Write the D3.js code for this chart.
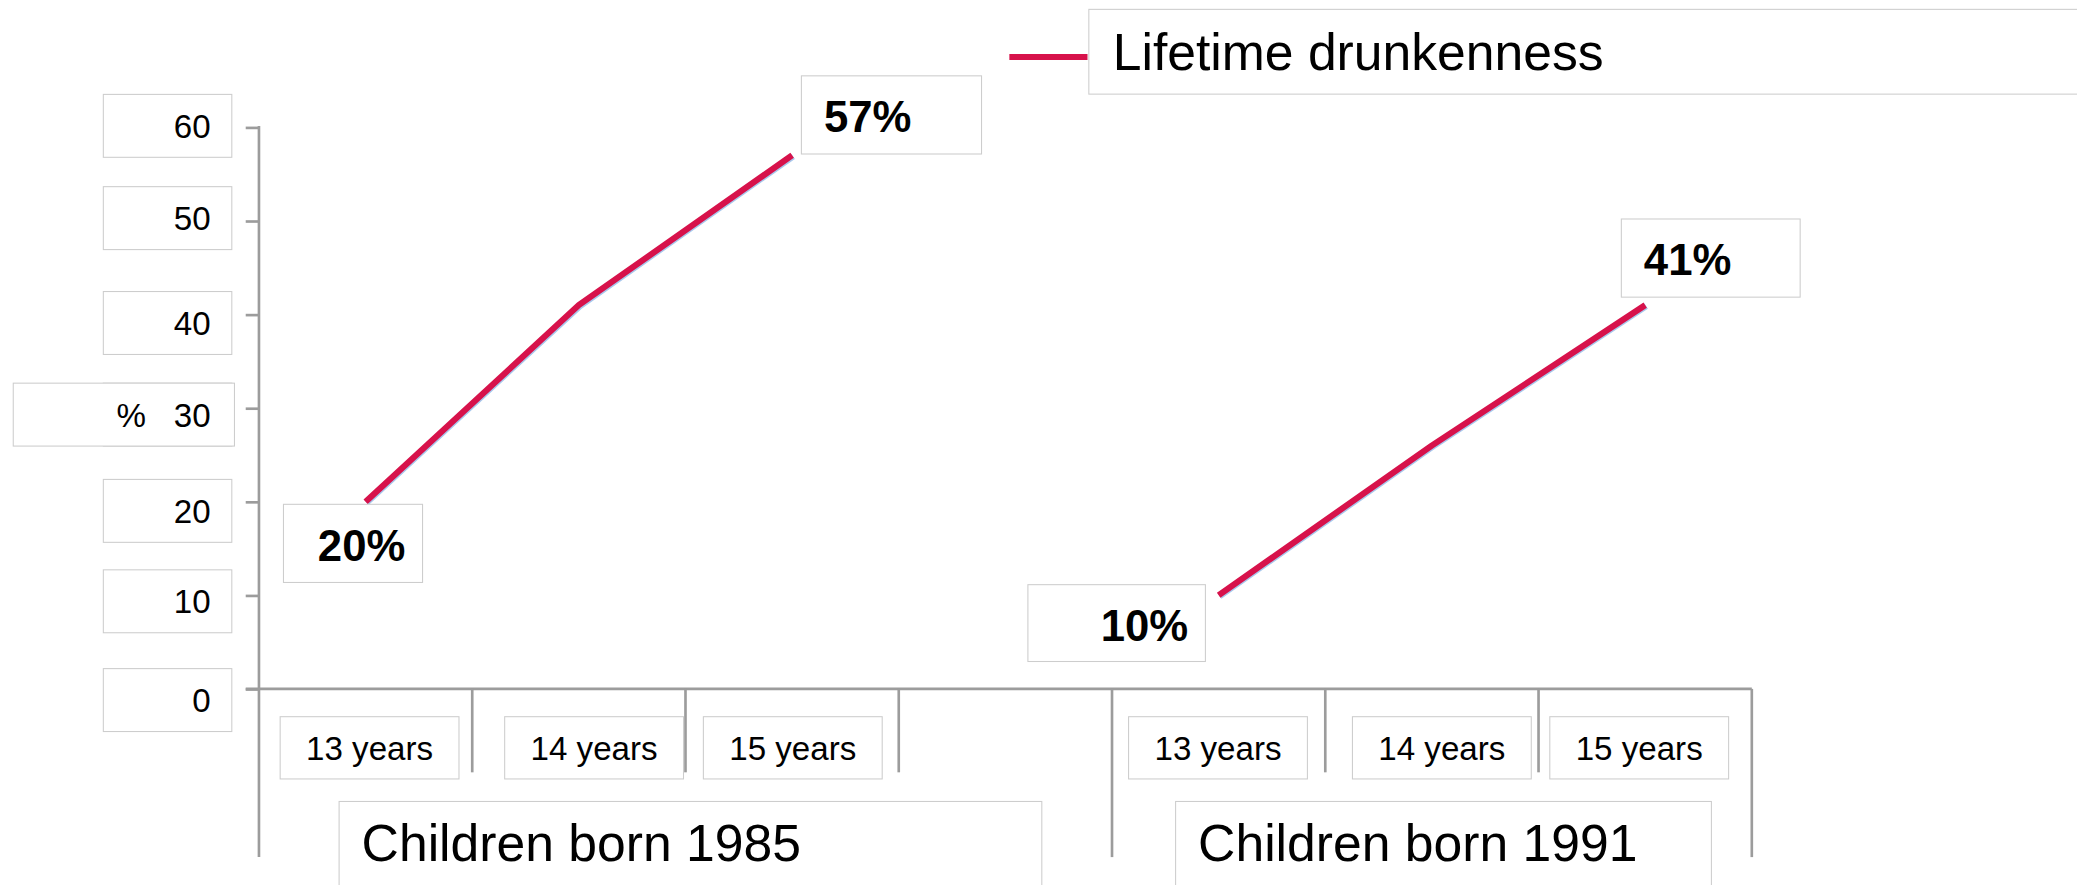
<!DOCTYPE html>
<html><head><meta charset="utf-8">
<script src="https://cdn.jsdelivr.net/npm/d3@7"></script>
<style>html,body{margin:0;padding:0;background:#fff;overflow:hidden}</style>
</head><body>
<svg id="chart" width="2077" height="885" viewBox="0 0 1568 668"></svg>
<script>
// ---------- data ----------
const ages = ["13 years", "14 years", "15 years"];
const cohorts = ["Children born 1985", "Children born 1991"];
const values1985 = [20, 41, 57];
const values1991 = [10, 26, 41];
const yTicks = [0, 10, 20, 30, 40, 50, 60];
const seriesName = "Lifetime drunkenness";
const yTitle = "%";

// ---------- style / layout ----------
const FONT = "'Liberation Sans', Arial, sans-serif";
const RED = "#d7124b";
const AXIS = "#9c9c9c";
const BOX = "#cdcdcd";
const plot = { left: 195.5, right: 1322.5, top: 96, bottom: 520 };
// small label-box nudges (layout only), in tick order 0..60
const tickBoxShift = [8.5, 4.6, 7, 5, 6.5, -2, -1];
// category label box nudges, in category order
const catBoxShift = [3, 11.5, 0.5, -0.5, 7.5, -4.5];

const svg = d3.select("#chart");

// slots: cohort 1985 has an empty trailing category
const slots = [
  ...ages.map(a => cohorts[0] + "|" + a), cohorts[0] + "|",
  ...ages.map(a => cohorts[1] + "|" + a)
];
const x = d3.scaleBand().domain(slots).range([plot.left, plot.right]).padding(0);
const y = d3.scaleLinear().domain([0, 60]).range([plot.bottom, plot.top]);
const bw = x.bandwidth();
const cx = k => x(k) + bw / 2;

// ---------- y axis ----------
const yAxis = d3.axisLeft(y).tickValues(yTicks).tickSize(10).tickSizeOuter(0).tickFormat("");
const gy = svg.append("g").attr("transform", `translate(${plot.left},0)`).call(yAxis);
gy.select(".domain").remove();
gy.selectAll(".tick line").attr("stroke", AXIS).attr("stroke-width", 2);
svg.append("line").attr("x1", plot.left).attr("x2", plot.left)
  .attr("y1", y(60) - 1).attr("y2", 647).attr("stroke", AXIS).attr("stroke-width", 2);

// tick label boxes
const tl = svg.append("g");
const bc = (d, i) => y(d) + tickBoxShift[i];
tl.selectAll("rect").data(yTicks).join("rect")
  .attr("x", 78).attr("y", (d, i) => bc(d, i) - 23.8).attr("width", 97).attr("height", 47.5)
  .attr("fill", "#fff").attr("stroke", BOX).attr("stroke-width", 0.8);
// axis title box (centred on axis middle)
const midIdx = yTicks.indexOf((y.domain()[0] + y.domain()[1]) / 2);
const midY = bc(yTicks[midIdx], midIdx);
tl.append("rect").attr("x", 10).attr("y", midY - 23.8).attr("width", 167).attr("height", 47.5)
  .attr("fill", "#fff").attr("stroke", BOX).attr("stroke-width", 0.8);
tl.selectAll("text.tick").data(yTicks).join("text").attr("class", "tick")
  .attr("x", 159).attr("y", (d, i) => bc(d, i) + 9).attr("text-anchor", "end")
  .attr("font-family", FONT).attr("font-size", 25).attr("fill", "#000").text(d => d);
tl.append("text").attr("x", 99).attr("y", midY + 9).attr("text-anchor", "middle")
  .attr("font-family", FONT).attr("font-size", 25).attr("fill", "#000").text(yTitle);

// ---------- x axis ----------
svg.append("line").attr("x1", plot.left - 10).attr("x2", plot.right)
  .attr("y1", plot.bottom).attr("y2", plot.bottom).attr("stroke", AXIS).attr("stroke-width", 2);
const groupStarts = new Set([x(slots[0]), x(cohorts[1] + "|" + ages[0])]);
const boundaries = slots.map(s => x(s)).concat([plot.right]);
svg.append("g").selectAll("line").data(boundaries.slice(1)).join("line")
  .attr("x1", d => d).attr("x2", d => d).attr("y1", plot.bottom)
  .attr("y2", (d, i) => (groupStarts.has(d) || i === boundaries.length - 2) ? 647 : 583)
  .attr("stroke", AXIS).attr("stroke-width", 2);

// category label boxes
const catKeys = slots.filter(s => !s.endsWith("|"));
const cg = svg.append("g");
cg.selectAll("rect").data(catKeys).join("rect")
  .attr("x", (d, i) => cx(d) - 67.5 + catBoxShift[i]).attr("y", 541).attr("width", 135).attr("height", 47)
  .attr("fill", "#fff").attr("stroke", BOX).attr("stroke-width", 0.8);
cg.selectAll("text").data(catKeys).join("text")
  .attr("x", (d, i) => cx(d) + catBoxShift[i]).attr("y", 574).attr("text-anchor", "middle")
  .attr("font-family", FONT).attr("font-size", 25).attr("fill", "#000")
  .text(d => d.split("|")[1]);

// group label boxes
const groupExtent = [
  { name: cohorts[0], x0: x(slots[0]), x1: x(cohorts[1] + "|" + ages[0]), padL: 60.5, padR: 53 },
  { name: cohorts[1], x0: x(cohorts[1] + "|" + ages[0]), x1: plot.right, padL: 48, padR: 30.5 }
];
const gg = svg.append("g");
gg.selectAll("rect").data(groupExtent).join("rect")
  .attr("x", d => d.x0 + d.padL).attr("y", 605)
  .attr("width", d => d.x1 - d.padR - d.x0 - d.padL).attr("height", 80)
  .attr("fill", "#fff").attr("stroke", BOX).attr("stroke-width", 0.8);
gg.selectAll("text").data(groupExtent).join("text")
  .attr("x", d => d.x0 + d.padL + 17).attr("y", 650)
  .attr("font-family", FONT).attr("font-size", 39).attr("fill", "#000").text(d => d.name);

// ---------- lines ----------
const series = [
  { cohort: cohorts[0], values: values1985 },
  { cohort: cohorts[1], values: values1991 }
];
const line = d3.line().x(d => cx(d.key)).y(d => y(d.v));
const pts = s => s.values.map((v, i) => ({ key: s.cohort + "|" + ages[i], v }));
const lg = svg.append("g");
series.forEach(s => {
  lg.append("path").attr("d", line(pts(s))).attr("fill", "none")
    .attr("stroke", "#a8c8ec").attr("stroke-width", 4.6).attr("transform", "translate(0.8,0.8)");
  lg.append("path").attr("d", line(pts(s))).attr("fill", "none")
    .attr("stroke", RED).attr("stroke-width", 4.6).attr("stroke-linejoin", "round");
});

// ---------- data labels (first & last point of each series) ----------
const labelLayout = [
  { s: 0, i: 0, bx: -62, by: 2, w: 105, h: 59, anchor: "end" },
  { s: 0, i: 2, bx: 7, by: -60, w: 136, h: 59, anchor: "start" },
  { s: 1, i: 0, bx: -144, by: -8, w: 134, h: 58, anchor: "end" },
  { s: 1, i: 2, bx: -18, by: -65, w: 135, h: 59, anchor: "start" }
];
const dl = svg.append("g");
labelLayout.forEach(L => {
  const s = series[L.s];
  const px = cx(s.cohort + "|" + ages[L.i]);
  const py = y(s.values[L.i]);
  dl.append("rect").attr("x", px + L.bx).attr("y", py + L.by).attr("width", L.w).attr("height", L.h)
    .attr("fill", "#fff").attr("stroke", BOX).attr("stroke-width", 0.8);
  dl.append("text")
    .attr("x", L.anchor === "end" ? px + L.bx + L.w - 13 : px + L.bx + 17)
    .attr("y", py + L.by + 42.5).attr("text-anchor", L.anchor)
    .attr("font-family", FONT).attr("font-size", 33).attr("font-weight", "bold").attr("fill", "#000")
    .text(s.values[L.i] + "%");
});

// ---------- legend ----------
const lgd = svg.append("g");
lgd.append("rect").attr("x", 822).attr("y", 7).attr("width", 800).attr("height", 64)
  .attr("fill", "#fff").attr("stroke", BOX).attr("stroke-width", 0.8);
lgd.append("line").attr("x1", 762).attr("x2", 821).attr("y1", 43).attr("y2", 43)
  .attr("stroke", RED).attr("stroke-width", 4.6);
lgd.append("text").attr("x", 840).attr("y", 53)
  .attr("font-family", FONT).attr("font-size", 39).attr("fill", "#000").text(seriesName);
</script>
</body></html>
